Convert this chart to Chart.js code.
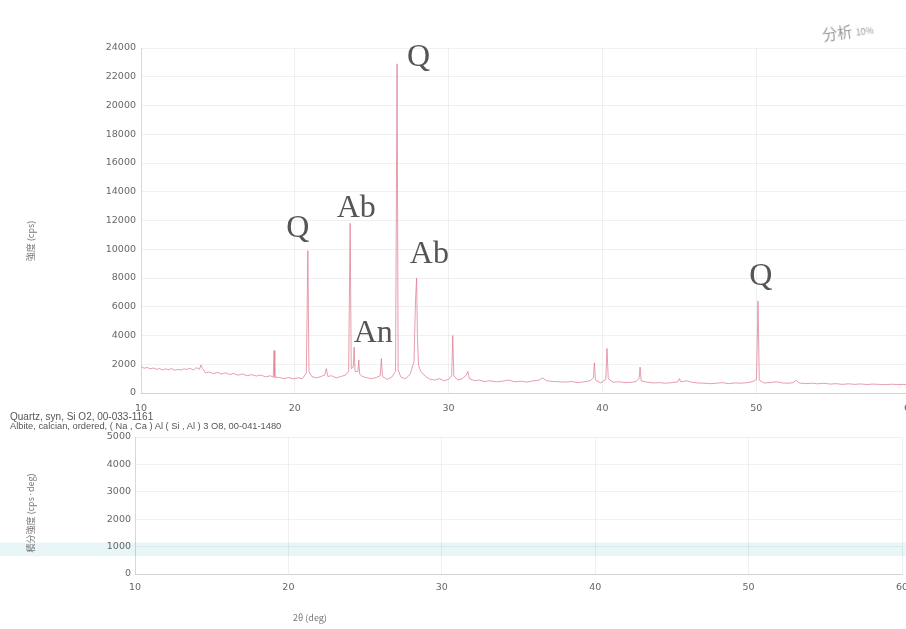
<!DOCTYPE html>
<html>
<head>
<meta charset="utf-8">
<script src="https://cdn.jsdelivr.net/npm/chart.js@4.4.0/dist/chart.umd.min.js"></script>
<style>
  html, body { margin: 0; padding: 0; background: #fff; overflow: hidden; width: 906px; height: 629px; }
  #wrap { position: relative; width: 906px; height: 629px; overflow: hidden; }
  canvas { position: absolute; left: 0; }
  .txt { position: absolute; font-family: "Liberation Sans", Arial, sans-serif; color: #555; white-space: nowrap; }
  .vt { position: absolute; font-family: "Noto Sans CJK JP", "DejaVu Sans", sans-serif; font-size: 9px; color: #777; white-space: nowrap; transform: translate(-50%, -50%) rotate(-90deg); }
</style>
</head>
<body>
<div id="wrap">
  <canvas id="top" width="930" height="430" style="top:0"></canvas>
  <canvas id="bottom" width="930" height="200" style="top:420px"></canvas>

  <div class="txt" style="left:10px;top:411px;font-size:10px;">Quartz, syn, Si O2, 00-033-1161</div>
  <div class="txt" style="left:10px;top:421px;font-size:9.3px;">Albite, calcian, ordered, ( Na , Ca ) Al ( Si , Al ) 3 O8, 00-041-1480</div>
  <div class="vt" style="left:30px;top:241px;">強度 (cps)</div>
  <div class="vt" style="left:30px;top:513px;">積分強度 (cps·deg)</div>
  <div class="txt" style="left:293px;top:611px;font-size:9px;color:#777;font-family:'Noto Sans CJK JP',sans-serif;">2θ (deg)</div>
  <div class="txt" style="left:822px;top:20px;font-size:15px;color:#999;font-family:'Noto Sans CJK JP',sans-serif;transform:rotate(-8deg);">分析 <span style="font-size:9px">10%</span></div>
</div>
<script>
// 2theta (deg) and intensity (cps)
const twoTheta = [
  10.0, 10.2, 10.4, 10.6, 10.8, 11.0, 11.2, 11.4, 11.6, 11.8, 12.0, 12.2, 12.4, 12.6, 12.8,
  13.0, 13.2, 13.4, 13.6, 13.8, 13.9, 14.0, 14.2, 14.4, 14.7, 15.0, 15.2, 15.5, 15.8, 16.0,
  16.3, 16.6, 16.9, 17.2, 17.5, 17.8, 18.1, 18.4, 18.6, 18.65, 18.7, 19.0, 19.3, 19.6, 19.9,
  20.2, 20.5, 20.75, 20.85, 20.92, 21.1, 21.4, 21.7, 21.95, 22.05, 22.15, 22.4, 22.7, 23.0, 23.3,
  23.5, 23.6, 23.67, 23.8, 23.86, 23.92, 24.1, 24.16, 24.22, 24.4, 24.7, 25.0, 25.3, 25.55, 25.63,
  25.7, 26.0, 26.3, 26.55, 26.65, 26.72, 26.9, 27.2, 27.5, 27.75, 27.85, 27.92, 27.97, 28.05, 28.2,
  28.5, 28.8, 29.1, 29.4, 29.7, 30.0, 30.2, 30.27, 30.34, 30.6, 30.9, 31.15, 31.25, 31.35, 31.7,
  32.0, 32.3, 32.7, 33.1, 33.5, 33.9, 34.3, 34.7, 35.1, 35.5, 35.9, 36.1, 36.4, 36.8, 37.2,
  37.6, 38.0, 38.4, 38.8, 39.2, 39.42, 39.48, 39.55, 39.9, 40.22, 40.3, 40.38, 40.7, 41.1, 41.5,
  41.9, 42.2, 42.38, 42.45, 42.52, 42.9, 43.3, 43.7, 44.1, 44.5, 44.9, 45.0, 45.1, 45.5, 45.8,
  46.2, 46.6, 47.0, 47.4, 47.8, 48.2, 48.6, 49.0, 49.4, 49.8, 50.02, 50.12, 50.2, 50.5, 50.9,
  51.3, 51.7, 52.1, 52.4, 52.6, 52.8, 53.2, 53.6, 54.0, 54.4, 54.8, 55.2, 55.6, 56.0, 56.4,
  56.8, 57.2, 57.6, 58.0, 58.4, 58.8, 59.2, 59.6, 60.0
];
const intensity = [
  1850, 1720, 1780, 1680, 1740, 1650, 1700, 1600, 1680, 1620, 1700, 1580, 1640, 1600, 1680,
  1640, 1720, 1600, 1760, 1650, 1950, 1700, 1400, 1460, 1350, 1440, 1320, 1400, 1280, 1360,
  1240, 1330, 1200, 1280, 1180, 1250, 1120, 1200, 1100, 2950, 1100, 1080, 1000, 1080, 980,
  1060, 1000, 1400, 9900, 1500, 1150, 1050, 1150, 1250, 1700, 1150, 1200, 1050, 1150, 1250,
  1500, 11800, 1700, 1800, 3200, 1500, 1500, 2300, 1300, 1150, 1050, 1000, 1080, 1200, 2400,
  1150, 950, 1100, 1500, 22900, 1600, 1100, 1000, 1300, 2200, 6500, 8000, 4000, 1900, 1500,
  1150, 950, 900, 1000, 850, 950, 1200, 4000, 1200, 900, 1000, 1250, 1500, 1000, 850,
  900, 800, 850, 780, 820, 900, 780, 820, 760, 850, 900, 1050, 850, 800, 780,
  760, 800, 720, 780, 850, 1050, 2100, 900, 700, 950, 3100, 1000, 750, 780, 720,
  750, 800, 1000, 1800, 850, 750, 700, 720, 680, 720, 780, 1000, 780, 850, 750,
  700, 680, 650, 680, 720, 650, 700, 680, 720, 800, 950, 6400, 900, 700, 720,
  780, 700, 680, 720, 900, 700, 650, 680, 640, 680, 620, 650, 600, 640, 600,
  630, 590, 620, 600, 580, 610, 590, 600, 580
];
const xTicks = [10, 20, 30, 40, 50, 60];

// phase marks: label, 2theta, intensity position
const peakLabels = ['Q', 'Q', 'Ab', 'Ab', 'An', 'Q'];
const labelTheta = [28.05, 20.2, 24.0, 28.75, 25.1, 50.3];
const labelCps = [23300, 11450, 12800, 9650, 4100, 8100];

const points = twoTheta.map((t, i) => ({ x: t, y: intensity[i] }));

const gridColor = 'rgba(0,0,0,0.06)';
const tickFont = { family: 'DejaVu Sans', size: 9.5 };

const labelPlugin = {
  id: 'peakLabels',
  afterDatasetsDraw(chart) {
    const { ctx, scales } = chart;
    ctx.save();
    ctx.font = '32px "Liberation Serif", "DejaVu Serif", serif';
    ctx.fillStyle = '#555';
    ctx.textAlign = 'center';
    ctx.textBaseline = 'middle';
    peakLabels.forEach((lab, i) => {
      ctx.fillText(lab, scales.x.getPixelForValue(labelTheta[i]), scales.y.getPixelForValue(labelCps[i]));
    });
    ctx.restore();
  }
};

new Chart(document.getElementById('top'), {
  type: 'scatter',
  data: {
    datasets: [{
      data: points,
      showLine: true,
      borderColor: 'rgba(222,125,145,0.75)',
      borderWidth: 1,
      pointRadius: 0,
      tension: 0
    }]
  },
  options: {
    responsive: false,
    animation: false,
    plugins: { legend: { display: false }, tooltip: { enabled: false } },
    layout: { padding: { top: 48, right: 20, bottom: 13, left: 0 } },
    scales: {
      x: {
        type: 'linear', min: 10, max: 60,
        afterFit: s => { s.height = 24 },
        afterBuildTicks: s => { s.ticks = xTicks.map(v => ({ value: v })) },
        grid: { color: gridColor, drawTicks: false },
        border: { color: 'rgba(0,0,0,0.12)' },
        ticks: { color: '#666', font: tickFont, padding: 10, maxRotation: 0, callback: v => String(v) }
      },
      y: {
        min: 0, max: 24000,
        afterFit: s => { s.width = 141 },
        grid: { color: gridColor, drawTicks: false },
        border: { color: 'rgba(0,0,0,0.1)' },
        ticks: { stepSize: 2000, color: '#666', font: tickFont, padding: 5, callback: v => String(v) }
      }
    }
  },
  plugins: [labelPlugin]
});

// light band across the lower panel (scan artefact)
const bandPlugin = {
  id: 'band',
  beforeDraw(chart) {
    const { ctx, scales } = chart;
    ctx.save();
    ctx.fillStyle = 'rgba(190,228,236,0.35)';
    const y1 = scales.y.getPixelForValue(1150);
    const y2 = scales.y.getPixelForValue(650);
    ctx.fillRect(0, y1, chart.width, y2 - y1);
    ctx.restore();
  }
};

new Chart(document.getElementById('bottom'), {
  type: 'scatter',
  data: { datasets: [{ data: [], pointRadius: 0 }] },
  options: {
    responsive: false,
    animation: false,
    plugins: { legend: { display: false }, tooltip: { enabled: false } },
    layout: { padding: { top: 17, right: 28, bottom: 22, left: 0 } },
    scales: {
      x: {
        type: 'linear', min: 10, max: 60,
        afterFit: s => { s.height = 24 },
        afterBuildTicks: s => { s.ticks = xTicks.map(v => ({ value: v })) },
        grid: { color: gridColor, drawTicks: false },
        border: { color: 'rgba(0,0,0,0.12)' },
        ticks: { color: '#666', font: tickFont, padding: 8, maxRotation: 0, callback: v => String(v) }
      },
      y: {
        min: 0, max: 5000,
        afterFit: s => { s.width = 135 },
        grid: { color: gridColor, drawTicks: false },
        border: { color: 'rgba(0,0,0,0.1)' },
        ticks: { stepSize: 1000, color: '#666', font: tickFont, padding: 4, callback: v => String(v) }
      }
    }
  },
  plugins: [bandPlugin]
});
</script>
</body>
</html>
